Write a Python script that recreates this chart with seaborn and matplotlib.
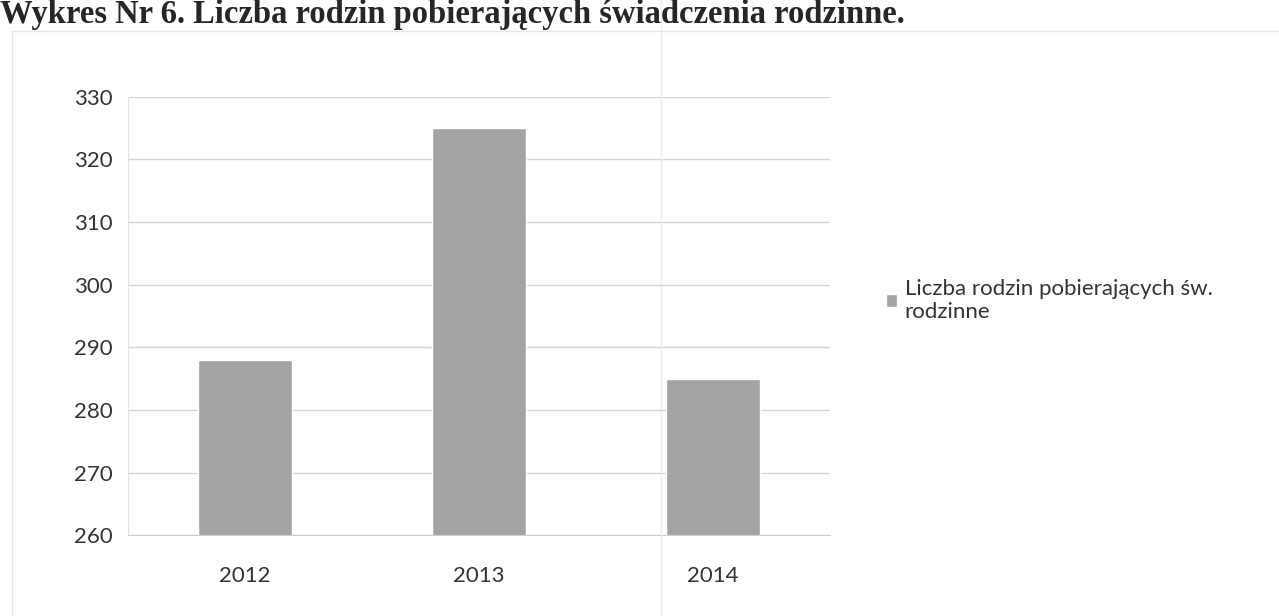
import numpy as np
import pandas as pd
import seaborn as sns
import matplotlib.pyplot as plt
from matplotlib.lines import Line2D

# Data
years = ["2012", "2013", "2014"]
families = [288, 325, 285]
series_label = "Liczba rodzin pobierających św.\nrodzinne"
title = "Wykres Nr 6. Liczba rodzin pobierających świadczenia rodzinne."

df = pd.DataFrame({"Rok": years, "Liczba": families})

sns.set_style("white")
plt.rcParams["font.family"] = ["Lato", "DejaVu Sans"]

fig = plt.figure(figsize=(12.79, 6.16), dpi=100)
ax = fig.add_axes([0.100, 0.131, 0.549, 0.712])

sns.barplot(data=df, x="Rok", y="Liczba", color="#a4a4a4", width=0.4,
            saturation=1, label=series_label, ax=ax)

# Axes styling
ax.set_ylim(260, 330)
ax.set_yticks(range(260, 331, 10))
ax.set_xlim(-0.5, 2.5)
ax.set_xlabel("")
ax.set_ylabel("")
ax.yaxis.grid(True, color="#d6d6d6", linewidth=1)
ax.set_axisbelow(True)
for side in ["top", "right"]:
    ax.spines[side].set_visible(False)
ax.spines["left"].set_color("#e3e3e3")
ax.spines["bottom"].set_color("#cfcfcf")
ax.tick_params(axis="y", length=6, color="#d6d6d6", labelsize=16,
               labelcolor="#333333", pad=5)
ax.tick_params(axis="x", which="major", length=0, labelsize=16,
               labelcolor="#333333", pad=22)
ax.set_xticks([-0.5, 0.5, 1.5, 2.5], minor=True)
ax.tick_params(axis="x", which="minor", length=7, color="#cfcfcf")

# Legend on the right (moved out of the axes)
handles, labels = ax.get_legend_handles_labels()
if ax.get_legend() is not None:
    ax.get_legend().remove()
fig.legend(handles, labels, loc="upper left", bbox_to_anchor=(0.677, 0.580),
           frameon=False, fontsize=16, handlelength=0.5, handleheight=0.5,
           handletextpad=0.35, labelspacing=0.3, labelcolor="#333333")

# Title at top of the page
fig.text(0.0, 0.962, title, fontsize=23.5, fontweight="bold",
         family="Liberation Serif", va="baseline", ha="left")

# Faint frame lines of the chart box
fig.add_artist(Line2D([0.009, 1.0], [0.950, 0.950], color="#e6e6e6", lw=1))
fig.add_artist(Line2D([0.009, 0.009], [0.0, 0.950], color="#e6e6e6", lw=1))
fig.add_artist(Line2D([0.517, 0.517], [0.0, 1.0], color="#ececec", lw=1))

fig.savefig("out.png", dpi=100)
